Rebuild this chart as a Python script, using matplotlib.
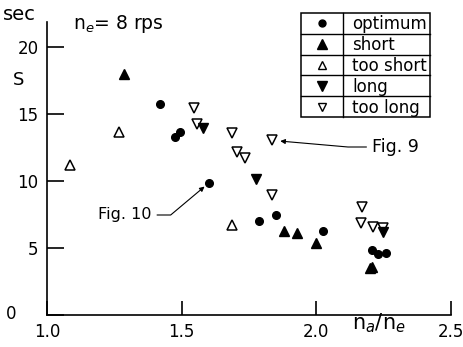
import matplotlib
matplotlib.use('Agg')
import matplotlib.pyplot as plt
import matplotlib.transforms as mtransforms
from matplotlib.patches import Rectangle

plt.rcParams['font.family'] = ['DejaVu Sans']
plt.rcParams['mathtext.fontset'] = 'dejavusans'

# ratio n_a/n_e and S in sec
opt_x = [1.42, 1.476, 1.494, 1.602, 1.788, 1.851, 2.026, 2.208, 2.23, 2.26]
opt_y = [15.8, 13.3, 13.7, 9.85, 7.0, 7.46, 6.27, 4.85, 4.55, 4.6]

short_x = [1.286, 1.881, 1.929, 2.0, 2.198, 2.208]
short_y = [18.05, 6.27, 6.12, 5.37, 3.55, 3.62]

tshort_x = [1.086, 1.268, 1.688]
tshort_y = [11.2, 13.7, 6.7]

long_x = [1.58, 1.777, 2.249]
long_y = [13.96, 10.2, 6.2]

tlong_x = [1.546, 1.558, 1.688, 1.706, 1.736, 1.836, 1.836, 2.171, 2.167, 2.212, 2.249]
tlong_y = [15.5, 14.3, 13.6, 12.2, 11.7, 13.06, 8.96, 8.06, 6.87, 6.57, 6.5]

leg_labels = ['optimum', 'short', 'too short', 'long', 'too long']
leg_markers = ['o', '^', '^', 'v', 'v']
leg_filled = [True, True, False, True, False]

W, H = 463, 347
fig = plt.figure(figsize=(W / 100, H / 100), dpi=100)
ax = fig.add_axes([47 / W, 1 - 315 / H, 404 / W, 293 / H])


def px(x, y):
    # figure pixel (from top-left) -> figure fraction
    return x / W, 1 - y / H


ms_tri = 7
ms_dot = 5.5
ax.plot(opt_x, opt_y, 'o', color='black', ms=ms_dot, clip_on=False)
ax.plot(short_x, short_y, '^', color='black', ms=ms_tri, clip_on=False)
ax.plot(tshort_x, tshort_y, '^', mfc='white', mec='black', mew=1.1, ms=ms_tri - 0.5, clip_on=False)
ax.plot(tlong_x, tlong_y, 'v', mfc='white', mec='black', mew=1.1, ms=ms_tri - 0.5, clip_on=False)
ax.plot(long_x, long_y, 'v', color='black', ms=ms_tri, clip_on=False)

ax.set_xlim(1.0, 2.5)
ax.set_ylim(0, 21.9)
ax.spines['top'].set_visible(False)
ax.spines['right'].set_visible(False)
ax.spines['left'].set_linewidth(1.2)
ax.spines['bottom'].set_linewidth(1.2)
ax.set_xticks([1.0, 1.5, 2.0, 2.5])
ax.set_xticklabels(['1.0', '1.5', '2.0', '2.5'])
ax.set_yticks([0, 5, 10, 15, 20])
ax.set_yticklabels(['0', '5', '10', '15', '20'])
ax.tick_params(axis='both', direction='in', labelsize=12, width=1.2)
ax.tick_params(axis='y', length=12, pad=6)
ax.tick_params(axis='x', length=10, pad=6)

# the "0" sits further left and a bit higher in the original
zero_lab = ax.get_yticklabels()[0]
zero_lab.set_transform(zero_lab.get_transform() +
                       mtransforms.ScaledTranslation(-22 / 100, 3 / 100, fig.dpi_scale_trans))

# axis labels
fig.text(*px(3, 15), 'sec', fontsize=14, va='center', ha='left')
fig.text(*px(13, 80), 'S', fontsize=13, va='center', ha='left')
fig.text(*px(352, 323), r'n$_a$/n$_e$', fontsize=15, va='center', ha='left')
fig.text(*px(73, 24), r'n$_e$= 8 rps', fontsize=13.5, va='center', ha='left')

# annotations
ax.annotate('Fig. 9', xy=(1.866, 13.0), xycoords='data',
            xytext=px(372, 147), textcoords='figure fraction',
            fontsize=12.5, va='center', ha='left',
            arrowprops=dict(arrowstyle='-|>', color='black', lw=0.8,
                            shrinkA=2, shrinkB=0, mutation_scale=7,
                            connectionstyle='angle,angleA=0,angleB=-5,rad=0'))
ax.annotate('Fig. 10', xy=(1.585, 9.6), xycoords='data',
            xytext=px(98, 215), textcoords='figure fraction',
            fontsize=11.5, va='center', ha='left',
            arrowprops=dict(arrowstyle='-|>', color='black', lw=0.8,
                            shrinkA=2, shrinkB=0, mutation_scale=7,
                            connectionstyle='angle,angleA=0,angleB=40,rad=0'))

# table-like legend
x0, x1, xd = 301, 430, 343
y0, row = 13, 20.8
fig.add_artist(Rectangle(px(x0, y0 + 5 * row), (x1 - x0) / W, 5 * row / H,
                         transform=fig.transFigure, fill=False, lw=1.1, ec='black'))
fig.add_artist(plt.Line2D([xd / W, xd / W], [1 - y0 / H, 1 - (y0 + 5 * row) / H],
                          transform=fig.transFigure, color='black', lw=1.0))
for i in range(1, 5):
    yy = 1 - (y0 + i * row) / H
    fig.add_artist(plt.Line2D([x0 / W, x1 / W], [yy, yy], transform=fig.transFigure,
                              color='black', lw=1.0))
for i, (lab, mk, fl) in enumerate(zip(leg_labels, leg_markers, leg_filled)):
    yc = y0 + (i + 0.5) * row
    ms = 5 if mk == 'o' else 6.5
    fig.add_artist(plt.Line2D([322 / W], [1 - yc / H], transform=fig.transFigure,
                              marker=mk, ms=ms if fl else ms - 1, mfc='black' if fl else 'white',
                              mec='black', mew=1.0, ls='none'))
    fig.text(352 / W, 1 - (yc + 1) / H, lab, fontsize=12, va='center', ha='left')

fig.savefig('out.png', dpi=100)
